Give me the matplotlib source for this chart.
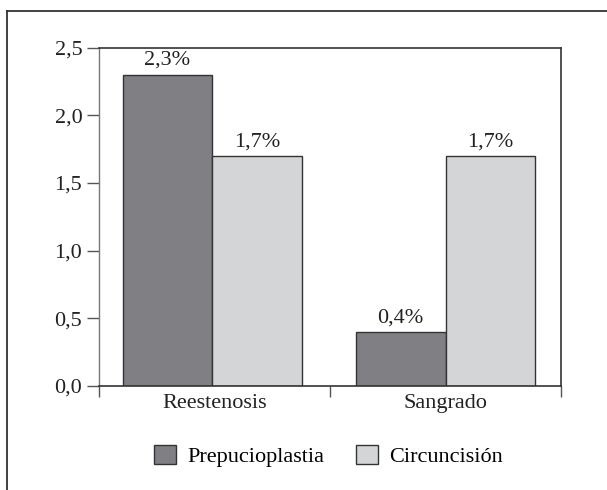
import matplotlib
matplotlib.use("Agg")
import matplotlib.pyplot as plt
from matplotlib.patches import Patch
from matplotlib.lines import Line2D

categories = ["Reestenosis", "Sangrado"]
series_names = ["Prepucioplastia", "Circuncisión"]
prepucioplastia = [2.3, 0.4]
circuncision = [1.7, 1.7]
ytick_labels = ["0,0", "0,5", "1,0", "1,5", "2,0", "2,5"]
yticks = [0.0, 0.5, 1.0, 1.5, 2.0, 2.5]

plt.rcParams["font.family"] = ["Liberation Serif", "DejaVu Serif"]

fig = plt.figure(figsize=(6.07, 4.90), dpi=100)
ax = fig.add_axes([99 / 607, 1 - 386 / 490, (561 - 99) / 607, (386 - 47.5) / 490])

dark = "#808084"
light = "#d4d5d7"
edge = "#333333"
w = 0.388
centers = [0.49, 1.5]
for i, c in enumerate(centers):
    ax.bar(c - w / 2, prepucioplastia[i], w, color=dark, edgecolor=edge, linewidth=1.0)
    ax.bar(c + w / 2, circuncision[i], w, color=light, edgecolor=edge, linewidth=1.0)
    for v, x in ((prepucioplastia[i], c - w / 2), (circuncision[i], c + w / 2)):
        ax.text(x, v + 0.035, f"{v:.1f}".replace(".", ",") + "%", ha="center", va="bottom",
                fontsize=16, color="#222222")

ax.set_xlim(0, 2)
ax.set_ylim(0, 2.5)
ax.set_yticks(yticks)
ax.set_yticklabels(ytick_labels, fontsize=16, color="#222222")
ax.set_xticks([0, 1, 2])
ax.set_xticklabels([])
ax.set_xticks([0.5, 1.5], minor=True)
ax.set_xticklabels(categories, minor=True, fontsize=16, color="#222222")
ax.tick_params(axis="x", which="minor", length=0, pad=6)
ax.tick_params(axis="x", which="major", length=8, width=1, color="#555555", direction="out")
ax.tick_params(axis="y", length=9, width=1, color="#555555", direction="out", pad=3)
for s in ["top", "right", "bottom"]:
    ax.spines[s].set_color("#333333")
    ax.spines[s].set_linewidth(1.2)
ax.spines["left"].set_color("#777777")
ax.spines["left"].set_linewidth(1.0)

handles = [Patch(facecolor=dark, edgecolor=edge, label=series_names[0]),
           Patch(facecolor=light, edgecolor=edge, label=series_names[1])]
fig.legend(handles=handles, loc="center", bbox_to_anchor=(328.5 / 607, 1 - 456 / 490), ncol=2,
           frameon=False, fontsize=16, handlelength=1.0, handleheight=0.95,
           columnspacing=1.45, handletextpad=0.5, borderpad=0, borderaxespad=0)

# outer frame (top and left)
fig.add_artist(Line2D([6.5 / 607, 1.0], [1 - 11 / 490, 1 - 11 / 490], transform=fig.transFigure,
                      color="#333333", linewidth=1.3))
fig.add_artist(Line2D([6.5 / 607, 6.5 / 607], [0, 1 - 11 / 490], transform=fig.transFigure,
                      color="#333333", linewidth=1.3))

fig.savefig("out.png", dpi=100)
